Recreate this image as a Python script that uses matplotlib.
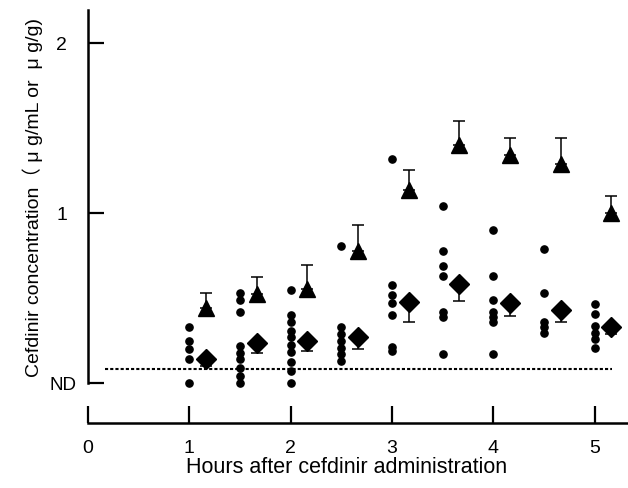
import matplotlib
matplotlib.use("Agg")
import matplotlib.pyplot as plt
import matplotlib.transforms as mtransforms
import numpy as np

plt.rcParams['font.family'] = ['Liberation Sans', 'Noto Sans CJK JP', 'DejaVu Sans']

# sampling times (h) and individual values at each time
hours = [1, 1.5, 2, 2.5, 3, 3.5, 4, 4.5, 5]
individual = [
    [0.33, 0.25, 0.20, 0.14, 0.0],
    [0.53, 0.49, 0.42, 0.22, 0.18, 0.14, 0.09, 0.04, 0.0],
    [0.55, 0.40, 0.36, 0.31, 0.27, 0.225, 0.185, 0.125, 0.07, 0.0],
    [0.81, 0.33, 0.29, 0.25, 0.21, 0.17, 0.13],
    [1.32, 0.58, 0.52, 0.47, 0.40, 0.215, 0.19],
    [1.04, 0.78, 0.69, 0.63, 0.42, 0.39, 0.17],
    [0.90, 0.63, 0.49, 0.42, 0.39, 0.36, 0.17],
    [0.79, 0.53, 0.36, 0.33, 0.295],
    [0.465, 0.41, 0.335, 0.295, 0.26, 0.21],
]

# mean +/- SD (triangles: upper bars, diamonds: lower bars)
tri_mean = [0.44, 0.525, 0.555, 0.78, 1.135, 1.40, 1.34, 1.29, 1.00]
tri_sd = [0.09, 0.10, 0.14, 0.15, 0.12, 0.14, 0.10, 0.155, 0.10]
dia_mean = [0.14, 0.235, 0.25, 0.27, 0.48, 0.585, 0.47, 0.43, 0.33]
dia_sd = [0.04, 0.06, 0.06, 0.07, 0.12, 0.10, 0.075, 0.07, 0.04]

nd_level = 0.085

fig = plt.figure(figsize=(6.28, 4.88), dpi=100)
ax = fig.add_axes([88 / 628, 1 - 423 / 488, 540 / 628, 413 / 488])

# individual points
for h, vals in zip(hours, individual):
    ax.plot([h] * len(vals), vals, 'o', color='black', ms=5.2, clip_on=False)

off = 0.165
xm = np.array(hours) + off
zeros = np.zeros(len(hours))

ax.errorbar(xm, tri_mean, yerr=[zeros, tri_sd], fmt='none', ecolor='black',
            elinewidth=1.1, capsize=4.5, capthick=1.1)
ax.plot(xm, tri_mean, '^', color='black', ms=11.5)

ax.errorbar(xm, dia_mean, yerr=[dia_sd, zeros], fmt='none', ecolor='black',
            elinewidth=1.1, capsize=4.5, capthick=1.1)
ax.plot(xm, dia_mean, 'D', color='black', ms=10)

# detection limit
ax.hlines(nd_level, 0.17, 5.17, colors='black', lw=1.5, linestyles=(0, (1.5, 1)))

ax.set_xlim(0, 5.33)
ax.set_ylim(-0.234, 2.196)

for s in ['top', 'right']:
    ax.spines[s].set_visible(False)
ax.spines['left'].set_bounds(0, 2.196)
ax.spines['left'].set_linewidth(1.8)
ax.spines['bottom'].set_linewidth(1.8)

ax.set_xticks([0, 1, 2, 3, 4, 5])
ax.set_yticks([0, 1, 2])
ax.set_yticklabels(['ND', '1', '2'])
ax.tick_params(axis='x', direction='in', length=12, width=1.6, pad=12, labelsize=14)
ax.tick_params(axis='y', direction='in', length=11.5, width=1.6, pad=15, labelsize=14)

# ND label sits a little closer to the axis
for lab in ax.get_yticklabels():
    if lab.get_text() == 'ND':
        lab.set_fontsize(13.5)
        lab.set_transform(lab.get_transform() +
                          mtransforms.ScaledTranslation(0.09, 0, fig.dpi_scale_trans))

ax.set_xlabel('Hours after cefdinir administration', fontsize=15.5, va='center')
ax.xaxis.set_label_coords(0.478, -0.107)
ax.set_ylabel('Cefdinir concentration（ μ g/mL or  μ g/g)', fontsize=14, va='center')
ax.yaxis.set_label_coords(-0.102, 0.545)

fig.savefig('out.png', dpi=100)
